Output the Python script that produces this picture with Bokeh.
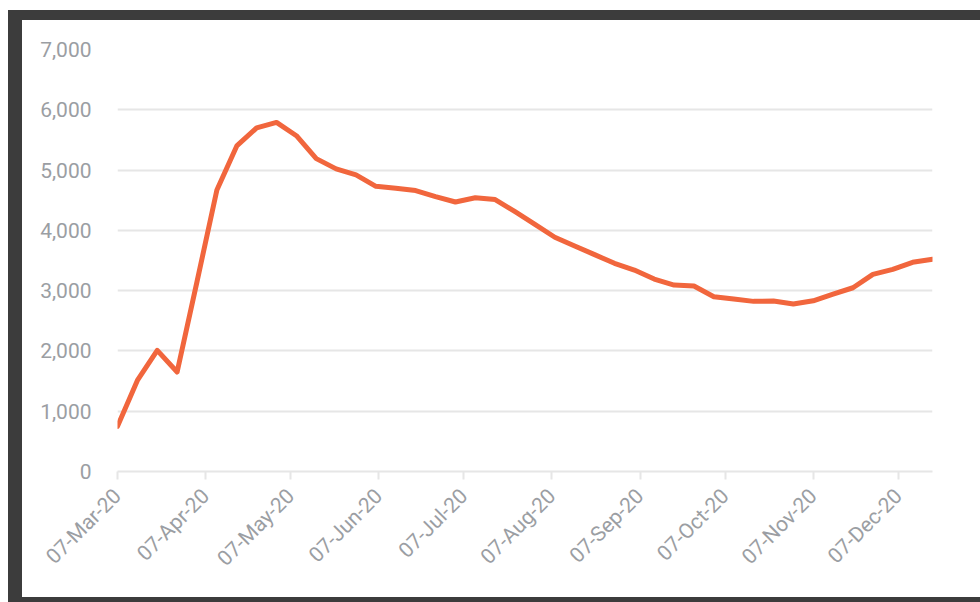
import math
from datetime import datetime, timedelta

from bokeh.plotting import figure
from bokeh.layouts import column
from bokeh.models import (Range1d, FixedTicker, NumeralTickFormatter,
                          DatetimeTickFormatter)
from bokeh.embed import file_html
from bokeh.resources import INLINE

# ---- data -------------------------------------------------------------
start_date = "2020-03-07"
end_date = "2020-12-19"
values = [750, 1510, 2010, 1650, 3150, 4670, 5400, 5700, 5790, 5570,
          5190, 5020, 4920, 4730, 4700, 4660, 4560, 4470, 4540, 4510,
          4310, 4100, 3886, 3740, 3597, 3453, 3342, 3192, 3093, 3076,
          2898, 2860, 2822, 2827, 2777, 2832, 2943, 3048, 3270, 3353,
          3470, 3520]
tick_dates = ["2020-03-07", "2020-04-07", "2020-05-07", "2020-06-07",
              "2020-07-07", "2020-08-07", "2020-09-07", "2020-10-07",
              "2020-11-07", "2020-12-07"]
tick_labels = ["07-Mar-20", "07-Apr-20", "07-May-20", "07-Jun-20",
               "07-Jul-20", "07-Aug-20", "07-Sep-20", "07-Oct-20",
               "07-Nov-20", "07-Dec-20"]
y_ticks = [0, 1000, 2000, 3000, 4000, 5000, 6000, 7000]

# ---- build ------------------------------------------------------------
t0 = datetime.strptime(start_date, "%Y-%m-%d")
dates = [t0 + timedelta(days=7 * i) for i in range(len(values))]

def ms(d):
    return (datetime.strptime(d, "%Y-%m-%d") - datetime(1970, 1, 1)).total_seconds() * 1000.0

tick_ms = [ms(d) for d in tick_dates]

FONT = "Roboto"
LABEL_COLOR = "#9b9ea3"
GRID_COLOR = "#e6e6e6"

p = figure(width=958, height=577, x_axis_type="datetime",
           output_backend="svg", toolbar_location=None,
           x_range=Range1d(ms(start_date), ms(end_date)),
           y_range=Range1d(0, 7000),
           min_border_left=95, min_border_right=48,
           min_border_top=29, min_border_bottom=126)
p.outline_line_color = None
p.background_fill_color = None
p.border_fill_color = None
p.styles = {"background-color": "white"}

p.line(dates, values, line_color="#F1663D", line_width=5,
       line_join="round", line_cap="round")

# y axis
p.yaxis.ticker = FixedTicker(ticks=y_ticks)
p.yaxis.formatter = NumeralTickFormatter(format="0,0")
p.yaxis.axis_line_color = None
p.yaxis.major_tick_line_color = None
p.yaxis.minor_tick_line_color = None
p.yaxis.major_label_text_font = FONT
p.yaxis.major_label_text_font_size = "21px"
p.yaxis.major_label_text_color = LABEL_COLOR
p.yaxis.major_label_standoff = 20

# x axis
p.xaxis.ticker = FixedTicker(ticks=tick_ms)
p.xaxis.formatter = DatetimeTickFormatter(days="%d-%b-%y", months="%d-%b-%y",
                                          years="%d-%b-%y")
p.xaxis.major_label_overrides = {t: lab for t, lab in zip(tick_ms, tick_labels)}
p.xaxis.axis_line_color = GRID_COLOR
p.xaxis.axis_line_width = 2
p.xaxis.major_tick_line_color = GRID_COLOR
p.xaxis.major_tick_line_width = 2
p.xaxis.major_tick_in = 0
p.xaxis.major_tick_out = 8
p.xaxis.minor_tick_line_color = None
p.xaxis.major_label_orientation = math.pi / 4
p.xaxis.major_label_text_font = FONT
p.xaxis.major_label_text_font_size = "21px"
p.xaxis.major_label_text_color = LABEL_COLOR
p.xaxis.major_label_standoff = 13

p.xgrid.visible = False
p.ygrid.grid_line_color = GRID_COLOR
p.ygrid.grid_line_width = 2

layout = column(p, margin=(10, 0, 0, 8),
                styles={"background-color": "#3c3c3c",
                        "padding": "10px 0px 5px 14px"})

open("out.html", "w").write(file_html(layout, INLINE))
